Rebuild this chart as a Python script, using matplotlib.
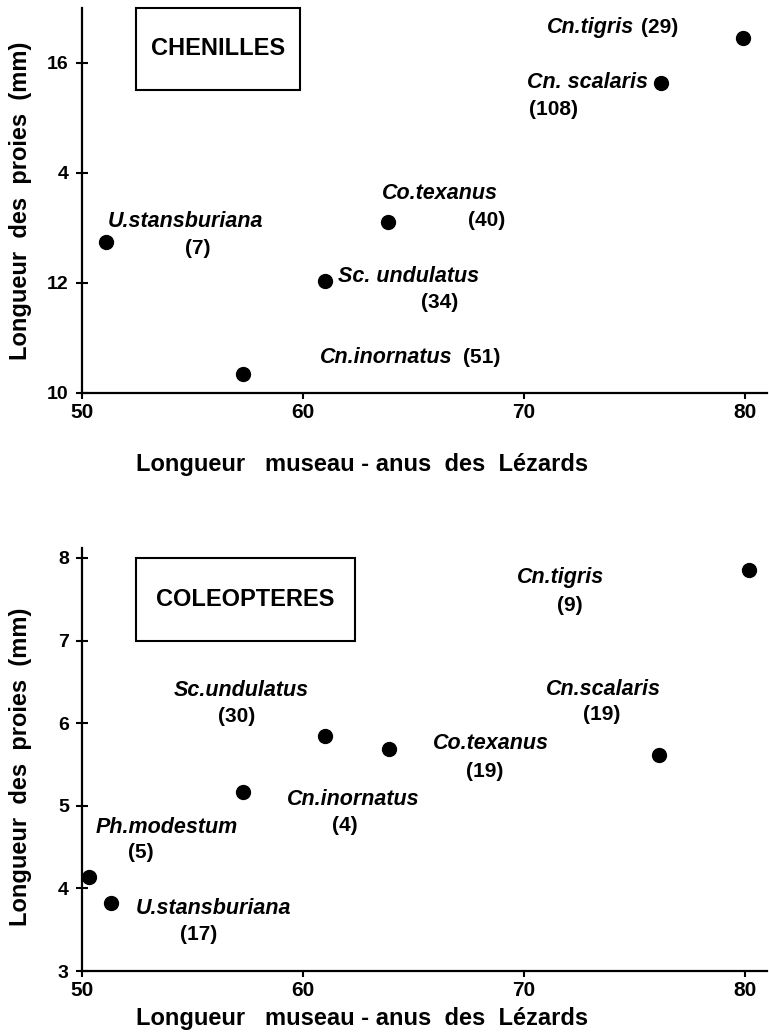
import matplotlib
matplotlib.use("Agg")
import matplotlib.pyplot as plt
from matplotlib.patches import Rectangle

plt.rcParams["font.family"] = ["Liberation Sans", "DejaVu Sans"]
plt.rcParams["font.weight"] = "bold"

# --- données ---
# chenilles
ch_especes = ["U.stansburiana", "Cn.inornatus", "Sc. undulatus", "Co.texanus",
              "Cn. scalaris", "Cn.tigris"]
ch_n = [7, 51, 34, 40, 108, 29]
ch_lezard = [51.1, 57.3, 61.0, 63.85, 76.2, 79.9]
ch_proie = [12.75, 10.35, 12.04, 13.1, 15.64, 16.45]
ch_yticks = [10, 12, 14, 16]
ch_ylabels = ["10", "12", "4", "16"]

# coléoptères
co_especes = ["Ph.modestum", "U.stansburiana", "Cn.inornatus", "Sc.undulatus",
              "Co.texanus", "Cn.scalaris", "Cn.tigris"]
co_n = [5, 17, 4, 30, 19, 19, 9]
co_lezard = [50.3, 51.3, 57.3, 61.0, 63.9, 76.1, 80.2]
co_proie = [4.14, 3.82, 5.17, 5.85, 5.69, 5.61, 7.85]
co_yticks = [3, 4, 5, 6, 7, 8]

xticks = [50, 60, 70, 80]

# positions des étiquettes (nom, effectif) en coordonnées des données
ch_pos_nom = [(51.18, 13.11), (60.77, 10.64), (61.58, 12.11), (63.57, 13.62),
              (70.14, 15.64), (71.04, 16.65)]
ch_pos_n = [(54.66, 12.62), (67.24, 10.64), (65.34, 11.64), (67.47, 13.13),
            (70.23, 15.15), (75.29, 16.65)]
co_pos_nom = [(50.63, 4.74), (52.44, 3.76), (59.28, 5.08), (54.16, 6.40),
              (65.88, 5.75), (71.0, 6.41), (69.68, 7.76)]
co_pos_n = [(52.08, 4.43), (54.43, 3.44), (61.31, 4.76), (56.15, 6.08),
            (67.38, 5.42), (72.67, 6.10), (71.49, 7.43)]

W, H = 769, 1034
fig = plt.figure(figsize=(W / 100, H / 100), dpi=100)


def axe(rect, ylim, yticks, ylabels):
    ax = fig.add_axes(rect)
    ax.set_xlim(50, 81.0)
    ax.set_ylim(*ylim)
    for s in ("top", "right"):
        ax.spines[s].set_visible(False)
    for s in ("left", "bottom"):
        ax.spines[s].set_linewidth(1.6)
    ax.set_xticks(xticks)
    ax.set_xticklabels([str(t) for t in xticks], fontsize=15, fontweight="bold")
    ax.set_yticks(yticks)
    ax.set_yticklabels(ylabels, fontsize=14, fontweight="bold")
    ax.tick_params(axis="y", direction="inout", length=9, width=1.5, pad=5)
    ax.tick_params(axis="x", direction="out", length=4, width=1.5, pad=3)
    return ax


def etiquettes(ax, noms, ns, pos_nom, pos_n):
    for nom, n, (xn, yn), (xc, yc) in zip(noms, ns, pos_nom, pos_n):
        ax.text(xn, yn, nom, fontsize=15.5, fontstyle="italic",
                fontweight="bold", ha="left", va="center")
        ax.text(xc, yc, f"({n})", fontsize=15, fontweight="bold",
                ha="left", va="center")


# haut : chenilles
ax1 = axe([82 / W, (H - 393) / H, 685 / W, 385 / H], (10, 17.0),
          ch_yticks, ch_ylabels)
ax1.plot(ch_lezard, ch_proie, "o", color="black", ms=10, clip_on=False)
etiquettes(ax1, ch_especes, ch_n, ch_pos_nom, ch_pos_n)
ax1.add_patch(Rectangle((52.44, 15.51), 59.86 - 52.44, 17.0 - 15.51,
                        fill=False, lw=1.5, clip_on=False))
ax1.text((52.44 + 59.86) / 2, (15.51 + 17.0) / 2, "CHENILLES", fontsize=17,
         fontweight="bold", ha="center", va="center")

# bas : coléoptères
ax2 = axe([82 / W, 63 / H, 685 / W, 423 / H], (3, 8.12),
          co_yticks, [str(t) for t in co_yticks])
ax2.plot(co_lezard, co_proie, "o", color="black", ms=10, clip_on=False)
etiquettes(ax2, co_especes, co_n, co_pos_nom, co_pos_n)
ax2.add_patch(Rectangle((52.44, 7.0), 62.35 - 52.44, 1.0,
                        fill=False, lw=1.5, clip_on=False))
ax2.text((52.44 + 62.35) / 2, 7.5, "COLEOPTERES", fontsize=17,
         fontweight="bold", ha="center", va="center")

# titres des axes
for yc in (201, 767):
    fig.text(21 / W, 1 - yc / H, "Longueur  des  proies  (mm)", rotation=90,
             fontsize=17, fontweight="bold", ha="center", va="center")
for yc in (465, 1018):
    fig.text(362 / W, 1 - yc / H, "Longueur   museau - anus  des  Lézards",
             fontsize=17, fontweight="bold", ha="center", va="center")

fig.savefig("out.png", dpi=100)
